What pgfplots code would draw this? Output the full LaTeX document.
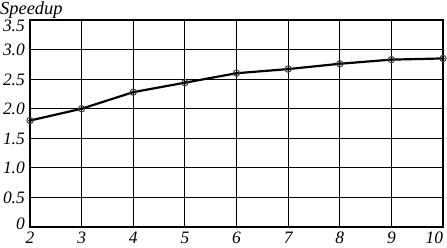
\documentclass[border=0pt]{standalone}
\usepackage{fontspec}
\setmainfont{Liberation Serif}
\usepackage{pgfplots}
\pgfplotsset{compat=1.18}
\begin{document}
\begin{tikzpicture}
\begin{axis}[
  name=ax,
  scale only axis,
  width=413bp, height=207bp,
  xmin=2, xmax=10, ymin=0, ymax=3.5,
  xtick={2,3,4,5,6,7,8,9,10},
  xticklabels={2,3,4,5,6,7,8,9,{\makebox[0pt][r]{10}}},
  ytick={0,0.5,1,1.5,2,2.5,3,3.5},
  yticklabels={{\raisebox{4bp}{0}},0.5,1.0,1.5,2.0,2.5,3.0,{\raisebox{-5.5bp}{3.5}}},
  tick style={draw=none},
  ticklabel style={font=\fontsize{17.5}{19}\selectfont\itshape},
  xticklabel style={anchor=north, yshift=-5bp, inner sep=0pt},
  yticklabel style={anchor=base east, inner sep=0pt, xshift=-5bp, yshift=-6bp},
  grid=major,
  major grid style={black, line width=1pt},
  axis line style={black, line width=1.5pt},
  clip=false,
]
\addplot[black, line width=2.2pt, mark=o, mark size=3.2pt, mark options={line width=1pt, draw=black!75}] coordinates {
  (2,1.80) (3,2.00) (4,2.28) (5,2.44) (6,2.60) (7,2.67) (8,2.76) (9,2.83) (10,2.85)
};
\addplot[only marks, black, mark=*, mark size=1.5pt] coordinates {
  (2,1.80) (3,2.00) (4,2.28) (5,2.44) (6,2.60) (7,2.67) (8,2.76) (9,2.83) (10,2.85)
};
\node[anchor=base west, font=\fontsize{18.5}{21}\selectfont\itshape, inner sep=0pt] at ([xshift=-30bp, yshift=5.5bp]rel axis cs:0,1) {Speedup};
\end{axis}
\pgfresetboundingbox
\path ([xshift=-30bp,yshift=20bp]ax.north west) rectangle ([xshift=4bp,yshift=-20bp]ax.south east);
\end{tikzpicture}
\end{document}
